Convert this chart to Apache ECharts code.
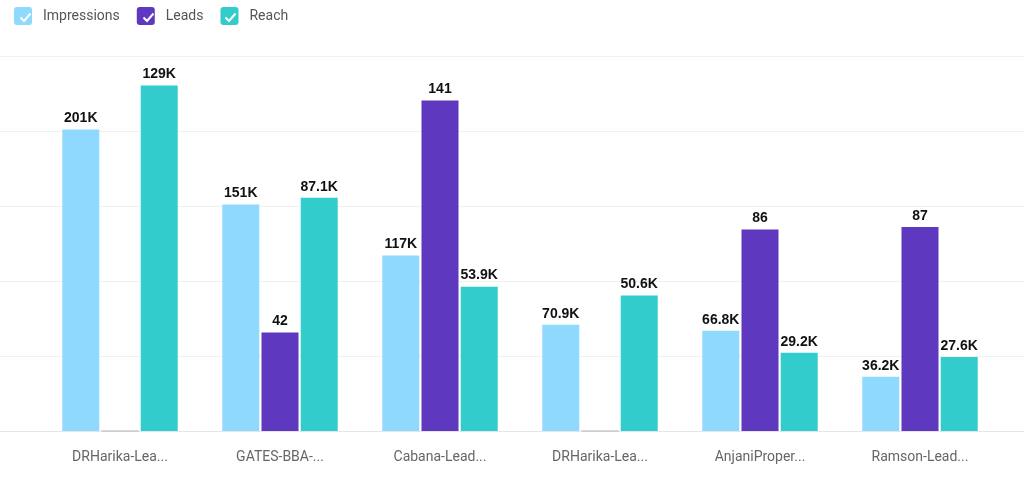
<!DOCTYPE html>
<html><head><meta charset="utf-8">
<script src="https://cdn.jsdelivr.net/npm/echarts@6/dist/echarts.min.js"></script>
<style>html,body{margin:0;padding:0;background:#fff}#c{width:1024px;height:481px}</style>
</head><body><div id="c"></div>
<script>
var categories = ['DRHarika-Lea...', 'GATES-BBA-...', 'Cabana-Lead...', 'DRHarika-Lea...', 'AnjaniProper...', 'Ramson-Lead...'];
var impressions = [201000, 151000, 117000, 70900, 66800, 36200];
var leads = [0, 42, 141, 0, 86, 87];
var reach = [129000, 87100, 53900, 50600, 29200, 27600];
var seriesNames = ['Impressions', 'Leads', 'Reach'];
var colors = ['#8fd9ff', '#5e39bf', '#33cccc'];

function fmt(v) {
  if (!v) return '';
  if (v >= 1000) return (+ (v / 1000).toPrecision(3)) + 'K';
  return String(v);
}
function withZero(arr) {
  return arr.map(function (v) {
    return v === 0 ? {value: 0, itemStyle: {borderColor: '#c8c8c8', borderWidth: 1}} : v;
  });
}
var labelStyle = {show: true, position: 'top', distance: 4, formatter: function (p) { return fmt(p.value); },
  fontFamily: 'Liberation Sans, Arial, sans-serif', fontWeight: 'bold', fontSize: 14, color: '#111'};

var chart = echarts.init(document.getElementById('c'), null, {renderer: 'canvas'});
var checks = [];
var iconX = [14, 137, 219];
iconX.forEach(function (x) {
  checks.push({type: 'polyline', left: x + 4, top: 11, z: 100,
    shape: {points: [[0, 4], [3.5, 7.5], [10, 0]]},
    style: {stroke: '#fff', lineWidth: 2, fill: null}});
});
chart.setOption({
  animation: false,
  color: colors,
  legend: {
    left: 14, top: 7, padding: 0, itemWidth: 18, itemHeight: 18, itemGap: 17,
    icon: 'path://M3,0 H15 A3,3 0 0 1 18,3 V15 A3,3 0 0 1 15,18 H3 A3,3 0 0 1 0,15 V3 A3,3 0 0 1 3,0 Z',
    textStyle: {fontFamily: 'Roboto, sans-serif', fontSize: 14, color: '#555', padding: [0, 0, 0, 6]},
    data: seriesNames
  },
  graphic: checks,
  grid: [
    {left: 0, right: 0, top: 56, bottom: 50},
    {left: 40, right: 24, top: 56, bottom: 50}
  ],
  xAxis: [
    {type: 'category', gridIndex: 0, data: categories, axisTick: {show: false}, axisLabel: {show: false},
      axisLine: {lineStyle: {color: '#e6e6e6', width: 1}}},
    {type: 'category', gridIndex: 1, data: categories, axisTick: {show: false}, axisLine: {show: false},
      axisLabel: {color: '#666', fontSize: 14, fontFamily: 'Roboto, sans-serif', margin: 19, interval: 0}}
  ],
  yAxis: [
    {type: 'value', gridIndex: 0, min: 0, max: 5, interval: 1, axisLabel: {show: false}, axisLine: {show: false}, axisTick: {show: false},
      splitLine: {lineStyle: {color: '#f0f0f0'}}},
    {type: 'value', gridIndex: 1, min: 0, max: 250000, show: false, splitLine: {show: false}},
    {type: 'value', gridIndex: 1, min: 0, max: 160, show: false, splitLine: {show: false}},
    {type: 'value', gridIndex: 1, min: 0, max: 140000, show: false, splitLine: {show: false}}
  ],
  series: [
    {name: 'Impressions', type: 'bar', xAxisIndex: 1, yAxisIndex: 1, data: impressions, barWidth: 37, barGap: '6%', label: labelStyle},
    {name: 'Leads', type: 'bar', xAxisIndex: 1, yAxisIndex: 2, data: withZero(leads), barWidth: 37, barGap: '6%', label: labelStyle},
    {name: 'Reach', type: 'bar', xAxisIndex: 1, yAxisIndex: 3, data: reach, barWidth: 37, barGap: '6%', label: labelStyle}
  ]
});
</script></body></html>
